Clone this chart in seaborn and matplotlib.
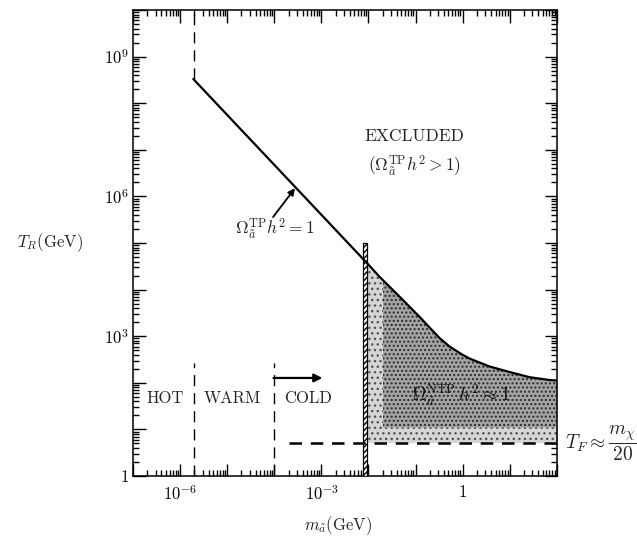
import numpy as np
import pandas as pd
import matplotlib
matplotlib.use("Agg")
import matplotlib.pyplot as plt
from matplotlib.patches import Rectangle
from matplotlib.ticker import LogLocator, FuncFormatter, NullFormatter
import seaborn as sns

# Thermal-production bound Omega^TP h^2 = 1 (straight in log-log)
tp_mass = [1.9e-6, 9.3e-3]
tp_temp = [3.3e8, 3.7e4]

# Upper edge of the non-thermal region
ntp_mass = [0.0093, 0.0174, 0.0468, 0.123, 0.324, 0.525, 1.0, 1.41, 3.72, 10.0, 26.3, 69.2, 100.0]
ntp_temp = [37200, 18600, 6900, 2570, 912, 603, 398, 331, 224, 170, 132, 115, 112]

# Freeze-out temperature line and region boundaries
tf_temp = 5.1
tf_mass_range = [2.0e-4, 100.0]
hot_warm_mass = 2.0e-6
warm_cold_mass = 1.0e-4
region_top = 260.0
band_mass = [7.6e-3, 9.3e-3]
band_top = 1.0e5
dense_mass_min = 0.0204
dense_temp_min = 11.0

xtick_values = [1e-6, 1e-3, 1.0]
xtick_labels = [r"$10^{-6}$", r"$10^{-3}$", "1"]
ytick_values = [1.0, 1e3, 1e6, 1e9]
ytick_labels = ["1", r"$10^{3}$", r"$10^{6}$", r"$10^{9}$"]

sns.set_theme(style="ticks")
plt.rcParams.update({
    "font.family": ["cmr10", "DejaVu Serif"],
    "mathtext.fontset": "cm",
    "axes.formatter.use_mathtext": True,
    "axes.linewidth": 1.1,
    "axes.edgecolor": "black",
    "xtick.color": "black",
    "ytick.color": "black",
    "hatch.linewidth": 1.0,
})

fig = plt.figure(figsize=(6.37, 5.37), dpi=100)
ax = fig.add_axes([0.209, 0.1136, 0.665, 0.8678])
ax.set_xscale("log")
ax.set_yscale("log")
ax.set_xlim(1e-7, 1e2)
ax.set_ylim(1.0, 1e10)

tp_df = pd.DataFrame({"mass": tp_mass, "temp": tp_temp})
ntp_df = pd.DataFrame({"mass": ntp_mass, "temp": ntp_temp})

# Stippled region between freeze-out temperature and the upper edge
ax.fill_between(ntp_df["mass"], tf_temp, ntp_df["temp"],
                facecolor="#d6d6d6", edgecolor="#555555",
                hatch="...", linewidth=0, zorder=1)
dense = ax.fill_between(ntp_df["mass"], dense_temp_min, ntp_df["temp"],
                        facecolor="#a4a4a4", edgecolor="#2a2a2a",
                        hatch="....", linewidth=0, zorder=2)
clip = Rectangle((dense_mass_min, 1.0), 100.0 - dense_mass_min, 1e10,
                 transform=ax.transData)
dense.set_clip_path(clip)

# Narrow hatched band at the cold boundary
ax.fill_betweenx([1.0, band_top], band_mass[0], band_mass[1],
                 facecolor="white", edgecolor="black", hatch="//////",
                 linewidth=0.9, zorder=3)

sns.lineplot(data=tp_df, x="mass", y="temp", color="black", lw=1.6, ax=ax,
             zorder=4, legend=False)
sns.lineplot(data=ntp_df, x="mass", y="temp", color="black", lw=1.6, ax=ax,
             zorder=4, legend=False, sort=True)

# Dashed lines
ax.plot([hot_warm_mass, hot_warm_mass], [tp_temp[0], 1e10], color="black",
        lw=1.0, dashes=(8, 5), zorder=4)
for m in (hot_warm_mass, warm_cold_mass):
    ax.plot([m, m], [1.0, region_top], color="black", lw=1.0, dashes=(8, 5),
            zorder=4)
ax.plot(tf_mass_range, [tf_temp, tf_temp], color="black", lw=1.8,
        dashes=(5, 3.5), zorder=4)

# Ticks
ax.xaxis.set_major_locator(LogLocator(base=10, numticks=20))
ax.yaxis.set_major_locator(LogLocator(base=10, numticks=20))
ax.xaxis.set_minor_locator(LogLocator(base=10, subs=np.arange(2, 10), numticks=20))
ax.yaxis.set_minor_locator(LogLocator(base=10, subs=np.arange(2, 10), numticks=20))


def make_fmt(values, labels):
    def fmt(v, pos):
        for tv, tl in zip(values, labels):
            if np.isclose(v, tv, rtol=1e-6):
                return tl
        return ""
    return FuncFormatter(fmt)


ax.xaxis.set_major_formatter(make_fmt(xtick_values, xtick_labels))
ax.yaxis.set_major_formatter(make_fmt(ytick_values, ytick_labels))
ax.xaxis.set_minor_formatter(NullFormatter())
ax.yaxis.set_minor_formatter(NullFormatter())
ax.tick_params(which="both", direction="in", top=True, right=True,
               width=1.0, colors="black", labelsize=12)
ax.tick_params(which="major", length=9)
ax.tick_params(which="minor", length=4.5)
ax.tick_params(axis="x", which="major", pad=6)
ax.tick_params(axis="y", which="major", pad=3)
for s in ax.spines.values():
    s.set_visible(True)
    s.set_color("black")

# Axis labels
ax.set_xlabel(r"$m_{\tilde{a}}$(GeV)", fontsize=12)
ax.xaxis.set_label_coords(0.483, -0.083)
ax.set_ylabel(r"$T_R$(GeV)", fontsize=12, rotation=0, ha="center", va="center")
ax.yaxis.set_label_coords(-0.196, 0.5)

# Annotations
ax.text(0.096, 1.9e7, "EXCLUDED", ha="center", va="center", fontsize=12.5)
ax.text(0.096, 4.7e6, r"$(\Omega_{\tilde{a}}^{\rm TP}h^2>1)$", ha="center",
        va="center", fontsize=12.5)
ax.text(1.05e-4, 2.0e5, r"$\Omega_{\tilde{a}}^{\rm TP}h^2=1$", ha="center",
        va="center", fontsize=12.5)
ax.annotate("", xy=(2.75e-4, 1.5e6), xytext=(9.4e-5, 3.6e5),
            arrowprops=dict(arrowstyle="-|>", color="black", lw=1.3,
                            shrinkA=0, shrinkB=0, mutation_scale=10))
ax.text(4.9e-7, 47, "HOT", ha="center", va="center", fontsize=12)
ax.text(1.3e-5, 47, "WARM", ha="center", va="center", fontsize=12)
ax.text(5.2e-4, 47, "COLD", ha="center", va="center", fontsize=12)
ax.annotate("", xy=(1.05e-3, 127), xytext=(9.6e-5, 127),
            arrowprops=dict(arrowstyle="-|>", color="black", lw=1.6,
                            shrinkA=0, shrinkB=0, mutation_scale=12))
ax.text(0.95, 55, r"$\Omega_{\tilde{a}}^{\rm NTP}\,h^2\approx 1$",
        ha="center", va="center", fontsize=13.5, color="#111111", zorder=5)
ax.text(1.019, tf_temp, r"$T_F\approx\dfrac{m_\chi}{20}$",
        transform=ax.get_yaxis_transform(), ha="left", va="center",
        fontsize=14, clip_on=False)

fig.savefig("out.png", dpi=100, facecolor="white")
